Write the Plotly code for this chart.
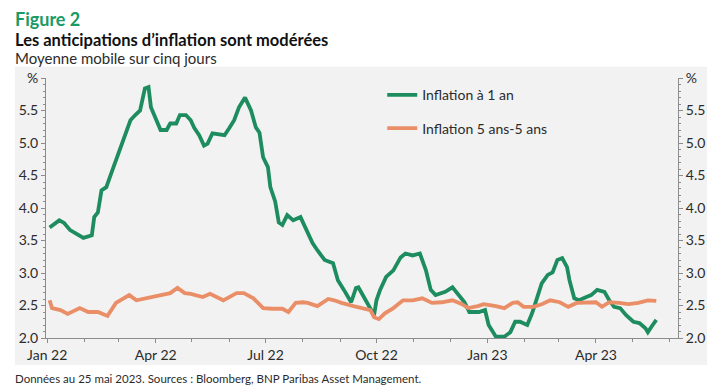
import plotly.graph_objects as go

# Inflation à 1 an (green)
green_dates = ["2022-01-03","2022-01-11","2022-01-15","2022-01-20","2022-01-31","2022-02-07","2022-02-09",
    "2022-02-12","2022-02-15","2022-02-19","2022-02-23","2022-02-27","2022-03-03","2022-03-08","2022-03-11",
    "2022-03-15","2022-03-19","2022-03-23","2022-03-26","2022-03-28","2022-04-01","2022-04-05","2022-04-10",
    "2022-04-13","2022-04-18","2022-04-21","2022-04-26","2022-04-30","2022-05-03","2022-05-07","2022-05-11",
    "2022-05-14","2022-05-18","2022-05-28","2022-06-01","2022-06-05","2022-06-09","2022-06-14","2022-06-15",
    "2022-06-19","2022-06-23","2022-06-26","2022-06-29","2022-07-03","2022-07-05","2022-07-09","2022-07-12",
    "2022-07-15","2022-07-19","2022-07-24","2022-07-30","2022-08-03","2022-08-09","2022-08-13","2022-08-19",
    "2022-08-26","2022-08-30","2022-09-04","2022-09-10","2022-09-14","2022-09-16","2022-09-23","2022-09-29",
    "2022-10-01","2022-10-04","2022-10-09","2022-10-15","2022-10-21","2022-10-25","2022-10-31","2022-11-06",
    "2022-11-11","2022-11-15","2022-11-19","2022-11-23","2022-11-27","2022-12-03","2022-12-07","2022-12-13",
    "2022-12-17","2022-12-25","2022-12-30","2023-01-02","2023-01-08","2023-01-15","2023-01-20","2023-01-24",
    "2023-01-28","2023-02-03","2023-02-07","2023-02-11","2023-02-15","2023-02-20","2023-02-24","2023-02-28",
    "2023-03-04","2023-03-08","2023-03-10","2023-03-14","2023-03-18","2023-03-24","2023-03-28","2023-04-02",
    "2023-04-08","2023-04-12","2023-04-16","2023-04-21","2023-04-26","2023-05-02","2023-05-07","2023-05-12",
    "2023-05-14","2023-05-18","2023-05-21"]
green_values = [3.70,3.81,3.77,3.66,3.54,3.58,3.86,
    3.93,4.27,4.32,4.53,4.73,4.93,5.16,5.35,
    5.43,5.50,5.84,5.86,5.55,5.38,5.20,5.20,
    5.30,5.30,5.43,5.43,5.35,5.23,5.12,4.96,
    4.99,5.15,5.12,5.23,5.35,5.55,5.70,5.66,
    5.50,5.24,5.16,4.78,4.63,4.32,4.10,3.78,
    3.74,3.89,3.81,3.86,3.71,3.46,3.35,3.20,
    3.15,2.89,2.74,2.55,2.77,2.78,2.55,2.35,
    2.58,2.74,2.94,3.04,3.24,3.30,3.27,3.30,
    3.04,2.74,2.66,2.69,2.71,2.78,2.69,2.55,
    2.40,2.40,2.43,2.20,2.02,2.02,2.09,2.25,
    2.25,2.20,2.38,2.63,2.84,2.97,3.01,3.20,
    3.23,3.09,2.89,2.61,2.58,2.63,2.66,2.74,
    2.71,2.58,2.48,2.46,2.35,2.25,2.23,2.15,
    2.09,2.20,2.28]

# Inflation 5 ans-5 ans (orange)
orange_dates = ["2022-01-03","2022-01-05","2022-01-12","2022-01-18","2022-01-28","2022-02-04","2022-02-12",
    "2022-02-20","2022-02-27","2022-03-10","2022-03-16","2022-03-24","2022-04-06","2022-04-13","2022-04-19",
    "2022-04-25","2022-04-30","2022-05-10","2022-05-16","2022-05-27","2022-06-07","2022-06-13","2022-06-21",
    "2022-06-29","2022-07-07","2022-07-15","2022-07-20","2022-07-26","2022-08-01","2022-08-05","2022-08-13",
    "2022-08-22","2022-08-27","2022-09-02","2022-09-12","2022-09-21","2022-09-26","2022-09-29","2022-10-03",
    "2022-10-08","2022-10-15","2022-10-23","2022-10-31","2022-11-08","2022-11-16","2022-11-24","2022-12-03",
    "2022-12-11","2022-12-16","2022-12-24","2022-12-29","2023-01-08","2023-01-15","2023-01-22","2023-01-26",
    "2023-01-31","2023-02-08","2023-02-15","2023-02-22","2023-03-02","2023-03-09","2023-03-16","2023-03-24",
    "2023-04-01","2023-04-06","2023-04-12","2023-04-20","2023-04-28","2023-05-06","2023-05-14","2023-05-21"]
orange_values = [2.58,2.46,2.43,2.37,2.46,2.40,2.40,
    2.34,2.54,2.66,2.58,2.61,2.66,2.69,2.77,
    2.69,2.68,2.63,2.68,2.58,2.69,2.69,2.61,
    2.46,2.45,2.45,2.40,2.54,2.55,2.54,2.49,
    2.60,2.58,2.54,2.49,2.45,2.43,2.32,2.29,
    2.38,2.46,2.58,2.58,2.61,2.54,2.55,2.58,
    2.52,2.46,2.49,2.52,2.49,2.46,2.54,2.55,
    2.48,2.48,2.52,2.58,2.55,2.48,2.54,2.55,
    2.55,2.48,2.55,2.54,2.52,2.54,2.58,2.57]

y_tickvals = [2.0, 2.5, 3.0, 3.5, 4.0, 4.5, 5.0, 5.5, 6.0]
y_ticktext = ["2.0", "2.5", "3.0", "3.5", "4.0", "4.5", "5.0", "5.5", "%"]

GREEN = "#1d8c5e"
ORANGE = "#e98e66"
FONT = "Lato"
AXIS_COL = "#8c8c8c"
TXT = "#2b2b2b"

fig = go.Figure()
fig.add_trace(go.Scatter(x=green_dates, y=green_values, mode="lines", name="Inflation à 1\u00a0an",
                         line=dict(color=GREEN, width=3.8), legendgroup="a"))
fig.add_trace(go.Scatter(x=orange_dates, y=orange_values, mode="lines", name="Inflation 5\u00a0ans-5\u00a0ans",
                         line=dict(color=ORANGE, width=3.8), legendgroup="b", yaxis="y2"))

yax = dict(range=[2.0, 6.0], tickvals=y_tickvals, ticktext=y_ticktext, showgrid=False, zeroline=False,
           showline=True, linecolor=AXIS_COL, linewidth=1, ticks="outside", ticklen=4, tickcolor=AXIS_COL,
           minor=dict(dtick=0.1, ticks="outside", ticklen=2, tickcolor=AXIS_COL),
           tickfont=dict(family=FONT, size=14, color=TXT))

fig.update_layout(
    width=717, height=380,
    margin=dict(l=38, r=47, t=70, b=50),
    paper_bgcolor="white",
    plot_bgcolor="#f2f2f2",
    showlegend=True,
    legend=dict(x=0.532, y=0.995, xanchor="left", yanchor="top", bgcolor="rgba(0,0,0,0)",
                font=dict(family=FONT, size=14, color=TXT), itemwidth=30,
                traceorder="grouped", tracegroupgap=12),
    xaxis=dict(range=["2021-12-31", "2023-06-08"], tickformat="%b %y", dtick="M3", tick0="2022-01-01",
               showgrid=False, zeroline=False, showline=True, linecolor=AXIS_COL, linewidth=1,
               ticks="outside", ticklen=4, tickcolor=AXIS_COL,
               minor=dict(dtick="M1", ticks="outside", ticklen=3, tickcolor=AXIS_COL),
               tickfont=dict(family=FONT, size=14, color=TXT)),
    yaxis=yax,
    yaxis2=dict(yax, overlaying="y", side="right", anchor="x"),
    shapes=[dict(type="rect", xref="paper", yref="paper", x0=-0.049, x1=1.046, y0=-0.104, y1=1.043,
                 fillcolor="#f2f2f2", line=dict(width=0), layer="below")],
    annotations=[
        dict(text="<b>Figure 2</b>", xref="paper", yref="paper", x=-0.052, y=1.228, xanchor="left",
             yanchor="middle", showarrow=False, font=dict(family=FONT, size=18, color="#1a9a64")),
        dict(text="<b>Les anticipations d’inflation sont modérées</b>", xref="paper", yref="paper",
             x=-0.052, y=1.146, xanchor="left", yanchor="middle", showarrow=False,
             font=dict(family=FONT, size=16.5, color="#111111")),
        dict(text="Moyenne mobile sur cinq jours", xref="paper", yref="paper", x=-0.052, y=1.077,
             xanchor="left", yanchor="middle", showarrow=False, font=dict(family=FONT, size=15, color=TXT)),
        dict(text="Données au 25 mai 2023. Sources : Bloomberg, BNP Paribas Asset Management.", xref="paper",
             yref="paper", x=-0.052, y=-0.154, xanchor="left", yanchor="middle", showarrow=False,
             font=dict(family=FONT, size=11.5, color=TXT)),
    ],
)

fig.write_html("out.html")
